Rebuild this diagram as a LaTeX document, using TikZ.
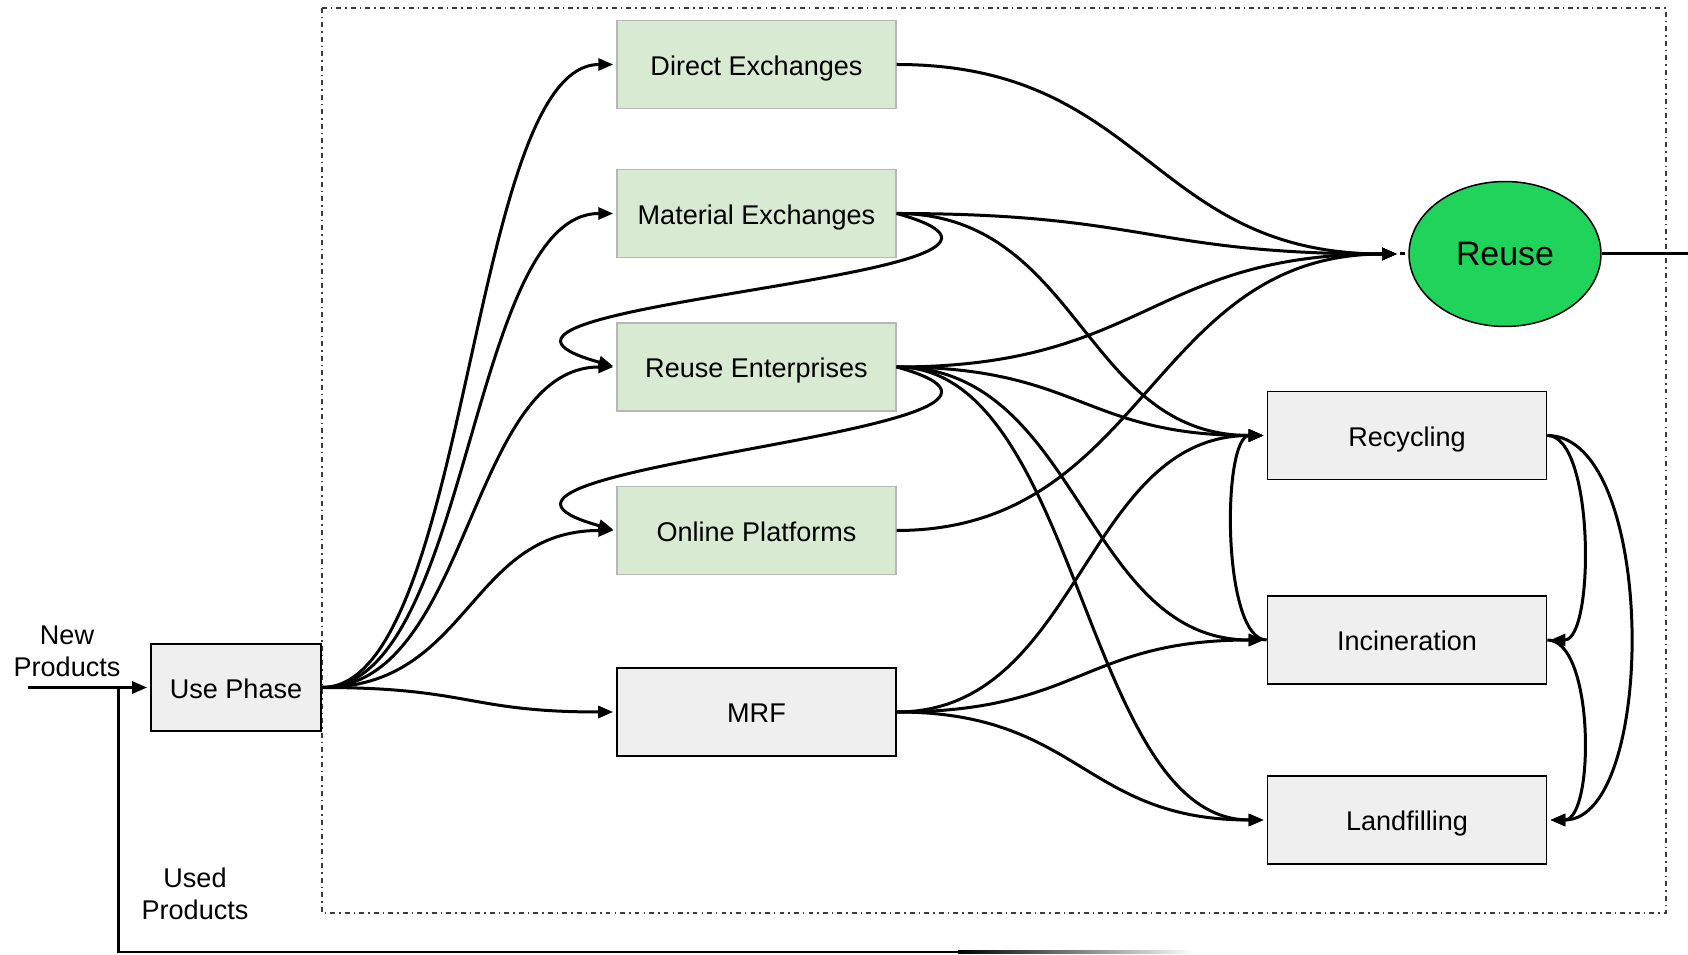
\documentclass[tikz,border=0pt]{standalone}
\usepackage{fontspec}
\setmainfont{Liberation Sans}
\usetikzlibrary{arrows.meta,shapes.geometric}
\definecolor{exgreen}{HTML}{D9EAD3}
\definecolor{exborder}{HTML}{B7B7B7}
\definecolor{wastegray}{HTML}{EFEFEF}
\definecolor{reusegreen}{HTML}{1FD35B}
\definecolor{framegray}{HTML}{3C3C3C}

\begin{document}
\begin{tikzpicture}[x=0.02cm,y=-0.02cm]
    \tikzset{
        label/.style={font=\fontsize{15.4}{18.1}\selectfont},
        box/.style={label, text height=12.2pt, text depth=0pt, minimum width=5.58cm, minimum height=1.76cm},
        exchange/.style={box, draw=exborder, line width=0.03cm, fill=exgreen},
        waste/.style={box, draw=black, line width=0.035cm, fill=wastegray},
        flow/.style={line width=0.06cm},
        arc/.style={flow, -{Triangle[length=0.3cm,width=0.24cm]}, shorten >=0.06cm},
        swing/.style={out=0, in=180, out distance=#1, in distance=#1},
        loopright/.style={out=0, in=0, out distance=#1, in distance=#1},
        loopleft/.style={out=180, in=180, out distance=#1, in distance=#1}
    }
    \useasboundingbox (0,0) rectangle (1688,955);

    % system boundary
    \draw[framegray, line width=0.04cm, dash pattern=on 2.8pt off 2.3pt on 0.85pt off 2.3pt] (322,8) rectangle (1666,913);

    \node[waste, minimum width=3.4cm, minimum height=1.74cm] (use) at (236,687.5) {Use Phase};
    \node[exchange] (direct) at (756.5,64.5) {Direct Exchanges};
    \node[exchange] (material) at (756.5,213.5) {Material Exchanges};
    \node[exchange] (enterprise) at (756.5,367) {Reuse Enterprises};
    \node[exchange] (online) at (756.5,530.5) {Online Platforms};
    \node[waste] (mrf) at (756.5,712) {MRF};
    \node[ellipse, draw, line width=0.03cm, fill=reusegreen, minimum width=3.84cm, minimum height=2.9cm, inner sep=0pt,
          font=\fontsize{19.3}{23}\selectfont] (reuse) at (1505,254) {Reuse};
    \node[waste] (recycling) at (1407,435.5) {Recycling};
    \node[waste] (incineration) at (1407,640) {Incineration};
    \node[waste] (landfill) at (1407,820) {Landfilling};

    \node[label, align=center, inner sep=0pt] (newlbl) at (67,651) {New\\Products};
    \node[label, align=center, inner sep=0pt] (usedlbl) at (195,893.5) {Used\\Products};

    \coordinate (newin) at (28,687.5);
    \coordinate (joint) at (118,687.5);
    \coordinate (fadestart) at (960,952);
    \coordinate (rin) at (1400,254);
    \coordinate (reuseout) at (1688,254);

    % inflow and loop back
    \draw[arc] (newin) -- (use.west);
    \draw[flow] (fadestart) -| (joint);
    \shade[left color=black, right color=white] (958,950.5) rectangle (1195,953.5);
    \draw[flow] (reuse.east) -- (reuseout);
    \draw[flow, dash pattern=on 3pt off 2pt] (rin) -- (reuse.west);

    \foreach \t in {direct,material,enterprise,online,mrf}{
        \draw[arc] (use.east) to[swing=2.96cm] (\t.west);
    }
    \foreach \s in {direct,material,enterprise,online}{
        \draw[arc] (\s.east) to[swing=5cm] (rin);
    }
    \foreach \s/\t in {%
        material/recycling,enterprise/recycling,enterprise/incineration,enterprise/landfill,%
        mrf/recycling,mrf/incineration,mrf/landfill%
    }{
        \draw[arc] (\s.east) to[swing=3.67cm] (\t.west);
    }
    \foreach \s/\t in {material/enterprise,enterprise/online}{
        \draw[arc] (\s.east) .. controls +(230,64) and +(-230,-64) .. (\t.west);
    }
    \draw[arc] (recycling.east) to[loopright=0.95cm] (incineration.east);
    \draw[arc] (recycling.east) to[loopright=2.2cm] (landfill.east);
    \draw[arc] (incineration.east) to[loopright=0.95cm] (landfill.east);
    \draw[arc] (incineration.west) to[loopleft=0.9cm] (recycling.west);
\end{tikzpicture}
\end{document}
